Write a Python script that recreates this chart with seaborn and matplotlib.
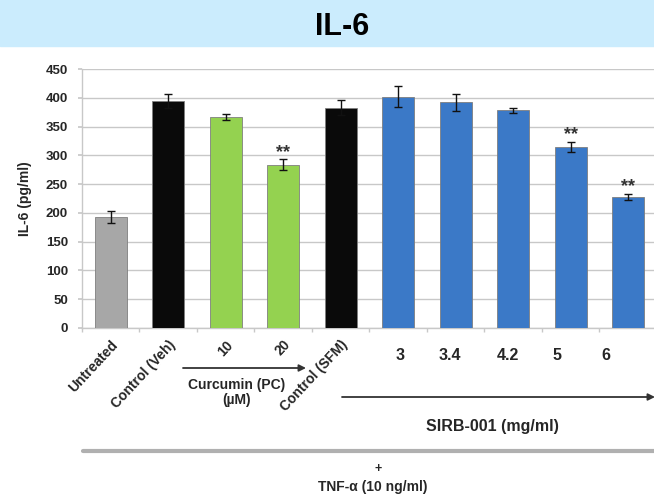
import matplotlib
matplotlib.use("Agg")
import matplotlib.pyplot as plt
import matplotlib.transforms as mtrans
import seaborn as sns
import pandas as pd
import numpy as np

# ---- data ----
categories = ["Untreated", "Control (Veh)", "10", "20", "Control (SFM)",
              "3", "3.4", "4.2", "5", "6"]
il6_values = [193, 394, 367, 284, 383, 402, 392, 378, 315, 228]
il6_errors = [11, 12, 5, 9, 13, 18, 15, 4, 9, 5]
significance = ["", "", "", "**", "", "", "", "", "**", "**"]
bar_colors = ["#a7a7a7", "#0a0a0a", "#94d250", "#94d250", "#0a0a0a",
              "#3b79c7", "#3b79c7", "#3b79c7", "#3b79c7", "#3b79c7"]
rotated_labels = ["Untreated", "Control (Veh)", "10", "20", "Control (SFM)"]
sirb_labels = ["3", "3.4", "4.2", "5", "6"]

W, H = 654, 495
sns.set_theme(style="white")
plt.rcParams["font.family"] = ["Liberation Sans", "DejaVu Sans"]
plt.rcParams["font.weight"] = "bold"

fig = plt.figure(figsize=(W / 100, H / 100), dpi=100)

def fx(px):
    return px / W

def fy(py):
    return 1 - py / H

# title band
fig.patches.append(plt.Rectangle((0, fy(46)), 1, 46 / H, transform=fig.transFigure,
                                 color="#cbecfd", zorder=0))
fig.text(fx(342), fy(27), "IL-6", ha="center", va="center", fontsize=22,
         fontweight="bold", family=["Liberation Sans Narrow", "Liberation Sans"],
         color="black")

ax = fig.add_axes([fx(82), fy(328), fx(654) - fx(82), fy(69) - fy(328)])

df = pd.DataFrame({"group": categories, "value": il6_values})
sns.barplot(data=df, x="group", y="value", hue="group", palette=bar_colors,
            order=categories, hue_order=categories, legend=False,
            width=0.56, errorbar=None, edgecolor="#7f7f7f", linewidth=0.6,
            saturation=1, ax=ax, zorder=3)

xpos = np.arange(len(categories))
ax.errorbar(xpos, il6_values, yerr=il6_errors, fmt="none", ecolor="#111111",
            elinewidth=1.0, capsize=3, capthick=1.0, zorder=4)
for i, s in enumerate(significance):
    if s:
        ax.text(xpos[i], il6_values[i] + il6_errors[i] + 4, s, ha="center",
                va="baseline", fontsize=13, fontweight="bold", color="#333333")

ax.set_xlim(-0.5, 9.45)
ax.set_ylim(0, 450)
ax.set_yticks(np.arange(0, 451, 50))
ax.yaxis.grid(True, color="#c8c8c8", linewidth=1.0, zorder=0)
ax.set_axisbelow(True)
for side in ["top", "right"]:
    ax.spines[side].set_visible(False)
ax.spines["left"].set_color("#c8c8c8")
ax.spines["bottom"].set_color("#c8c8c8")
ax.spines["left"].set_linewidth(1.0)
ax.spines["bottom"].set_linewidth(1.0)
ax.tick_params(axis="y", length=3, color="#c8c8c8", labelsize=9.5, pad=7, left=True)
for lab in ax.get_yticklabels():
    lab.set_fontweight("bold")
ax.set_ylabel("IL-6 (pg/ml)", fontsize=10, fontweight="bold", labelpad=10)

# x ticks: labels at centers, tick marks at boundaries
ax.set_xticks(xpos)
ax.set_xticklabels(rotated_labels + [""] * len(sirb_labels), rotation=47,
                   ha="right", rotation_mode="anchor", fontsize=10, fontweight="bold")
ax.tick_params(axis="x", which="major", length=0, pad=7)
ax.set_xticks(np.arange(-0.5, 9.5, 1.0), minor=True)
ax.tick_params(axis="x", which="minor", length=3, color="#c8c8c8", bottom=True)
ax.set_xlabel("")

# SIRB concentration labels (horizontal)
blend = mtrans.blended_transform_factory(ax.transData, fig.transFigure)
sirb_x = [5.03, 5.9, 6.91, 7.76, 8.61]
for xv, lab in zip(sirb_x, sirb_labels):
    ax.text(xv, fy(355), lab, transform=blend, ha="center", va="center",
            fontsize=11.5, fontweight="bold")

# annotations below
arrow_kw = dict(arrowstyle="-|>", color="#333333", lw=1.3, mutation_scale=10,
                shrinkA=0, shrinkB=0)
fig.add_artist(matplotlib.patches.FancyArrowPatch((fx(183), fy(368)), (fx(306), fy(368)),
                                                  transform=fig.transFigure, **arrow_kw))
fig.text(fx(237), fy(385), "Curcumin (PC)", ha="center", va="center", fontsize=10,
         fontweight="bold")
fig.text(fx(237), fy(400), "(µM)", ha="center", va="center", fontsize=10,
         fontweight="bold")
fig.add_artist(matplotlib.patches.FancyArrowPatch((fx(342), fy(397)), (fx(655), fy(397)),
                                                  transform=fig.transFigure, **arrow_kw))
fig.text(fx(492), fy(427), "SIRB-001 (mg/ml)", ha="center", va="center", fontsize=11.5,
         fontweight="bold")
fig.add_artist(matplotlib.lines.Line2D([fx(83), fx(654)], [fy(451), fy(451)],
                                       transform=fig.transFigure, color="#b0b0b0", lw=3))
fig.text(fx(378), fy(469), "+", ha="center", va="center", fontsize=9, fontweight="bold")
fig.text(fx(373), fy(487), "TNF-α (10 ng/ml)", ha="center", va="center", fontsize=10,
         fontweight="bold")

fig.savefig("out.png", dpi=100)
